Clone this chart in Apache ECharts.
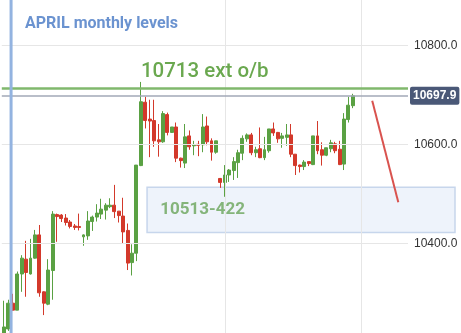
<!DOCTYPE html>
<html><head><meta charset="utf-8">
<script src="https://cdn.jsdelivr.net/npm/echarts@6/dist/echarts.min.js"></script>
<style>html,body{margin:0;padding:0;background:#fff}#c{width:461px;height:333px}</style>
</head><body><div id="c"></div>
<script>
// OHLC candles: [open, close, low, high]
const ohlc = [
 [10213,10231,10205,10284],[10227,10279,10223,10286],[10279,10265,10264,10298],[10265,10338,10265,10343],
 [10338,10370,10302,10376],[10368,10341,10292,10405],[10338,10370,10337,10409],[10370,10417,10369,10427],
 [10417,10300,10292,10437],[10302,10279,10255,10303],[10277,10346,10275,10368],[10345,10459,10286,10465],
 [10458,10454,10403,10460],[10457,10450,10443,10459],[10451,10442,10436,10459],[10443,10434,10430,10447],
 [10435,10432,10427,10439],[10434,10432,10426,10460],[10413,10417,10395,10418],[10415,10445,10407,10465],
 [10444,10453,10425,10456],[10453,10461,10444,10479],[10459,10469,10449,10490],[10467,10477,10448,10481],
 [10474,10477,10471,10491],[10477,10464,10451,10518],[10465,10456,10442,10465],[10455,10423,10399,10492],
 [10426,10360,10346,10440],[10361,10380,10335,10398],[10380,10558,10364,10558],[10557,10686,10556,10726],
 [10685,10648,10632,10696],[10651,10647,10574,10690],[10648,10607,10595,10690],[10609,10605,10575,10641],
 [10605,10662,10603,10667],[10660,10624,10618,10664],[10624,10635,10623,10635],[10635,10572,10564,10644],
 [10572,10567,10553,10573],[10562,10615,10552,10641],[10617,10595,10589,10628],[10597,10599,10578,10607],
 [10600,10598,10576,10607],[10599,10635,10584,10661],[10637,10605,10598,10656],[10607,10584,10567,10612],
 [10584,10607,10581,10607],[10531,10523,10512,10532],[10523,10538,10494,10558],[10538,10548,10524,10550],
 [10547,10565,10528,10574],[10563,10583,10532,10589],[10582,10612,10568,10618],[10611,10619,10605,10622],
 [10619,10583,10578,10623],[10583,10589,10574,10595],[10591,10573,10572,10634],[10573,10589,10568,10615],
 [10587,10631,10583,10631],[10631,10623,10617,10644],[10624,10611,10603,10625],[10612,10617,10593,10623],
 [10614,10619,10597,10641],[10619,10580,10574,10641],[10580,10557,10538,10580],[10558,10555,10543,10559],
 [10555,10564,10548,10568],[10565,10561,10556,10565],[10559,10617,10558,10617],[10617,10587,10580,10647],
 [10589,10578,10557,10604],[10578,10593,10576,10593],[10591,10603,10584,10609],[10601,10587,10582,10605],
 [10590,10559,10558,10607],[10560,10651,10548,10663],[10650,10679,10644,10696],[10678,10697.9,10673,10702]
];
const slotCount = 92; // candles + empty future slots
const categories = [];
for (let i = 0; i < slotCount; i++) categories.push('H' + (i + 1));
const yRange = [10218.8, 10891.5];      // visible price range, bottom to top
const yTicks = [10400, 10600, 10800];
const extLevel = 10713;
const lastPrice = 10697.9;
const zoneTop = 10513, zoneBottom = 10422;
const sessionBreaks = [50, 81];       // category indices of vertical gridlines
const markerIndex = 1.6;             // blue vertical marker
const zoneStartIndex = 32.4;
const projection = [[83.4, 10688], [89.3, 10483]];
const titleText = 'APRIL monthly levels';
const extText = '10713 ext o/b';
const zoneText = '10513-422';

const chart = echarts.init(document.getElementById('c'), null, {renderer: 'canvas'});
chart.setOption({
  animation: false,
  backgroundColor: '#ffffff',
  title: {text: titleText, left: 20, top: 10.5,
    textStyle: {color: '#6b93d0', fontFamily: 'Roboto', fontWeight: 'bold', fontSize: 16}},
  grid: {left: 1.8, right: 53, top: 0, bottom: 0},
  xAxis: {type: 'category', data: categories, boundaryGap: true,
    axisLine: {show: false}, axisTick: {show: false}, axisLabel: {show: false}, splitLine: {show: false}},
  yAxis: {type: 'value', position: 'right', min: yRange[0], max: yRange[1],
    axisLine: {show: false}, axisTick: {show: false},
    axisLabel: {customValues: yTicks, formatter: v => v.toFixed(1), color: '#333',
      fontFamily: 'Liberation Sans', fontSize: 12, margin: 6},
    splitLine: {show: false}},
  series: [
    {type: 'line', data: [], z: 1, silent: true,
      markLine: {silent: true, symbol: 'none', label: {show: false},
        lineStyle: {color: '#e6e6e6', width: 1, type: 'solid'},
        data: sessionBreaks.map(i => ({xAxis: categories[i]}))
          .concat(yTicks.map(v => ({yAxis: v})))}},
    {type: 'candlestick', data: ohlc, barWidth: '78%', z: 2,
      itemStyle: {color: '#5aa143', color0: '#d3392b', borderColor: '#5aa143', borderColor0: '#d3392b', borderWidth: 1},
      markLine: {silent: true, symbol: 'none',
        data: [
          {yAxis: extLevel, lineStyle: {color: '#80b86c', width: 2.5, type: 'solid'}, label: {show: false}},
          {yAxis: lastPrice, lineStyle: {color: '#a2a9b7', width: 1.5, type: 'solid'},
            label: {show: true, position: 'end', formatter: lastPrice.toFixed(1), color: '#fff',
              backgroundColor: '#4a5877', padding: [3, 3, 3, 3], borderRadius: 2, distance: 2,
              fontFamily: 'Liberation Sans', fontSize: 12, fontWeight: 'bold'}}
        ]}}
  ]
});

function px(i) {
  const a = Math.floor(i), f = i - a;
  const p0 = chart.convertToPixel({xAxisIndex: 0}, categories[a]);
  const p1 = chart.convertToPixel({xAxisIndex: 0}, categories[a + 1]);
  return p0 + (p1 - p0) * f;
}
function py(v) { return chart.convertToPixel({yAxisIndex: 0}, v); }

const W = 461, H = 333;
const bx = px(markerIndex);
const zx = px(zoneStartIndex), zt = py(zoneTop), zb = py(zoneBottom);
chart.setOption({
  graphic: [
    {type: 'rect', z: 0, shape: {x: zx, y: zt, width: (W - 6) - zx, height: zb - zt},
      style: {fill: '#eef3fb', stroke: '#c7d6ec', lineWidth: 1.5}},
    {type: 'text', z: 100, style: {text: zoneText, x: px(35.4), y: (zt + zb) / 2, fill: '#84b47a',
      font: 'bold 17px Roboto', verticalAlign: 'middle'}},
    {type: 'text', z: 100, style: {text: extText, x: px(31), y: py(extLevel) - 16, fill: '#6aa84f',
      font: '500 20.5px Roboto', verticalAlign: 'middle'}},
    {type: 'line', z: 100, shape: {x1: bx, y1: 0, x2: bx, y2: H},
      style: {stroke: '#93b3e0', lineWidth: 3}},
    {type: 'line', z: 100, shape: {x1: px(projection[0][0]), y1: py(projection[0][1]), x2: px(projection[1][0]), y2: py(projection[1][1])},
      style: {stroke: '#d9534f', lineWidth: 2}}
  ]
});
</script></body></html>
